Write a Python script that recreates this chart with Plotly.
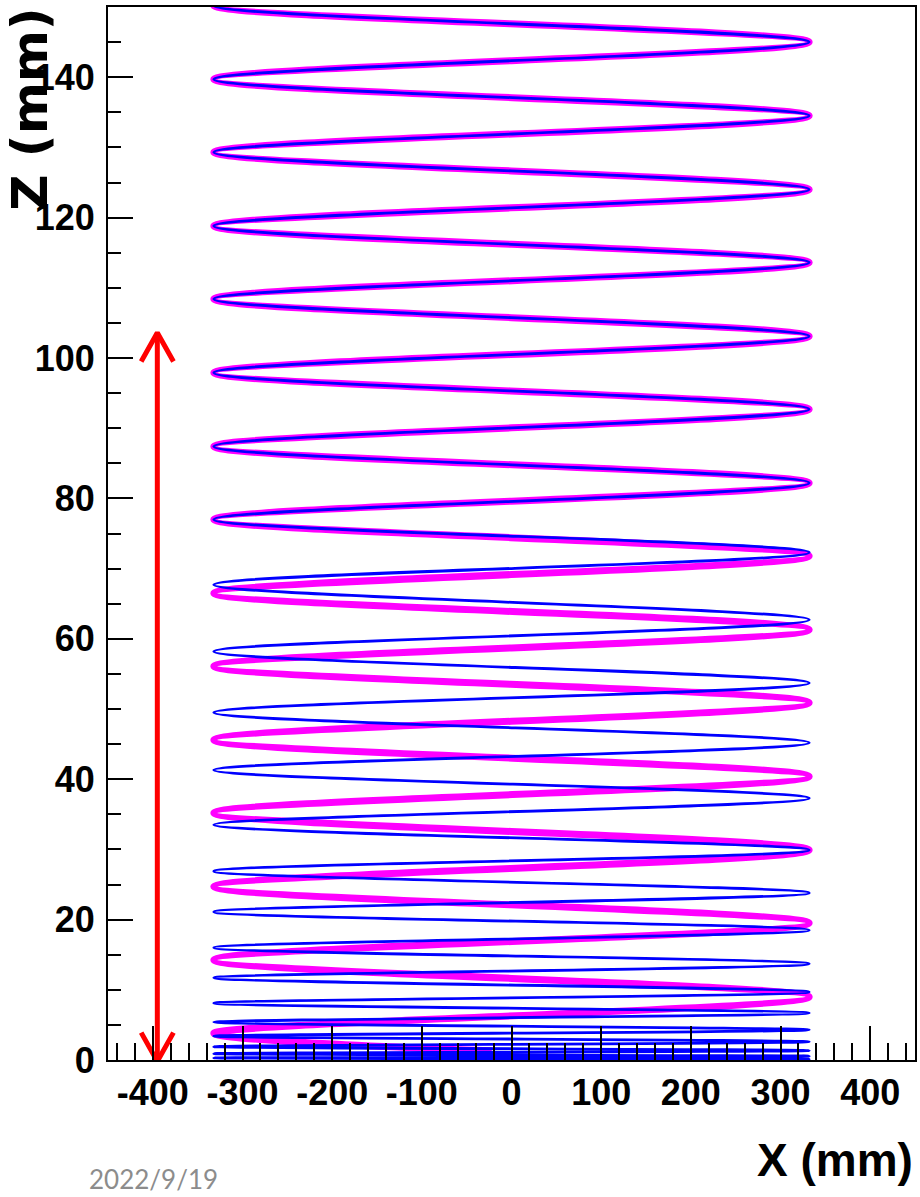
import plotly.graph_objects as go

# ---------------- data ----------------
x_tickvals = [-400, -300, -200, -100, 0, 100, 200, 300, 400]
x_ticktext = ["-400", "-300", "-200", "-100", "0", "100", "200", "300", "400"]
z_tickvals = [0, 20, 40, 60, 80, 100, 120, 140]
z_ticktext = ["0", "20", "40", "60", "80", "100", "120", "140"]

# magenta (thick) trajectory: start point, then alternating left/right turning points
magenta_x = [-22, -332, 332, -332, 332, -332, 332, -332, 332, -332, 332,
             -332, 332, -332, 332, -332, 332, -332, 332, -332, 332,
             -332, 332, -332, 332, -332, 332, -332, 332, -332, 332]
magenta_z = [1.3, 3.8, 9.0, 14.25, 19.5, 24.7, 29.9, 35.2, 40.4, 45.6, 50.9,
             56.1, 61.3, 66.5, 71.8, 77.0, 82.2, 87.4, 92.7, 97.9, 103.1,
             108.4, 113.6, 118.8, 124.0, 129.3, 134.5, 139.7, 145.0, 150.2, 155.4]

# blue (thin) trajectory: start point, then alternating right/left turning points
blue_x = [0, 332, -332, 332, -332, 332, -332, 332, -332, 332, -332,
          332, -332, 332, -332, 332, -332, 332, -332, 332, -332,
          332, -332, 332, -332, 332, -332, 332, -332, 332, -332,
          332, -332, 332, -332, 332, -332, 332, -332, 332, -332,
          332, -332, 332, -332, 332, -332, 332]
blue_z = [0.0, 0.12, 0.3, 0.55, 0.9, 1.35, 1.9, 2.6, 3.4, 4.3, 5.4,
          6.7, 8.1, 9.7, 11.7, 13.7, 16.0, 18.5, 21.1, 23.8, 26.9,
          29.9, 33.5, 37.3, 41.3, 45.2, 49.5, 53.7, 58.2, 62.7, 67.7,
          72.3, 77.0, 82.2, 87.4, 92.7, 97.9, 103.1, 108.4, 113.6, 118.8,
          124.0, 129.3, 134.5, 139.7, 145.0, 150.2, 155.4]

# red double arrow
arrow_x = -395
arrow_z_bottom = -0.2
arrow_z_top = 103.6
arrow_head_dx = 18
arrow_head_dz = 4.1

x_range = [-450, 450]
z_range = [0, 150]

# ---------------- figure ----------------
fig = go.Figure()

fig.add_trace(go.Scatter(
    x=magenta_x, y=magenta_z, mode="lines",
    line=dict(color="#FF00FF", width=7, shape="spline", smoothing=1.0),
    hoverinfo="skip"))
fig.add_trace(go.Scatter(
    x=blue_x, y=blue_z, mode="lines",
    line=dict(color="#0000FF", width=2.8, shape="spline", smoothing=1.0),
    hoverinfo="skip"))

red = dict(color="#FF0000", width=5)
fig.add_trace(go.Scatter(x=[arrow_x, arrow_x], y=[arrow_z_bottom, arrow_z_top],
                         mode="lines", line=red, hoverinfo="skip"))
fig.add_trace(go.Scatter(
    x=[arrow_x - arrow_head_dx, arrow_x, arrow_x + arrow_head_dx],
    y=[arrow_z_top - arrow_head_dz, arrow_z_top, arrow_z_top - arrow_head_dz],
    mode="lines", line=red, hoverinfo="skip"))
fig.add_trace(go.Scatter(
    x=[arrow_x - arrow_head_dx, arrow_x, arrow_x + arrow_head_dx],
    y=[arrow_z_bottom + arrow_head_dz, arrow_z_bottom, arrow_z_bottom + arrow_head_dz],
    mode="lines", line=red, hoverinfo="skip"))

tick_font = dict(family="Liberation Sans, Arial", size=36, color="black", weight="bold")

fig.update_xaxes(
    range=x_range, tickmode="array", tickvals=x_tickvals, ticktext=x_ticktext,
    ticks="inside", ticklen=34, tickwidth=1.5, tickcolor="black",
    minor=dict(tickmode="linear", tick0=0, dtick=20, ticks="inside",
               ticklen=17, tickwidth=1.5, tickcolor="black"),
    showline=True, linecolor="black", linewidth=2, mirror=True,
    showgrid=False, zeroline=False, tickfont=tick_font, ticklabelstandoff=0)
fig.update_yaxes(
    range=z_range, tickmode="array", tickvals=z_tickvals, ticktext=z_ticktext,
    ticks="inside", ticklen=25, tickwidth=1.5, tickcolor="black",
    minor=dict(tickmode="linear", tick0=0, dtick=5, ticks="inside",
               ticklen=13, tickwidth=1.5, tickcolor="black"),
    showline=True, linecolor="black", linewidth=2, mirror=True,
    showgrid=False, zeroline=False, tickfont=tick_font, ticklabelstandoff=4)

fig.update_layout(
    width=920, height=1197,
    margin=dict(l=108, r=3, t=7, b=137),
    paper_bgcolor="white", plot_bgcolor="white",
    showlegend=False,
    annotations=[
        dict(text="X (mm)", xref="paper", yref="paper", x=1.0, y=-0.068,
             xanchor="right", yanchor="top", showarrow=False,
             font=dict(family="Liberation Sans, Arial", size=46,
                       color="black", weight="bold")),
        dict(text="Z (mm)", xref="paper", yref="paper", x=-0.097, y=0.903,
             xanchor="center", yanchor="middle", showarrow=False, textangle=-90,
             font=dict(family="DejaVu Sans", size=50, color="black", weight="bold")),
        dict(text="2022/9/19", xref="paper", yref="paper", x=-0.026, y=-0.096,
             xanchor="left", yanchor="top", showarrow=False,
             font=dict(family="Lato, Open Sans", size=26, color="#8c8c8c")),
    ],
)

fig.write_html("out.html")
